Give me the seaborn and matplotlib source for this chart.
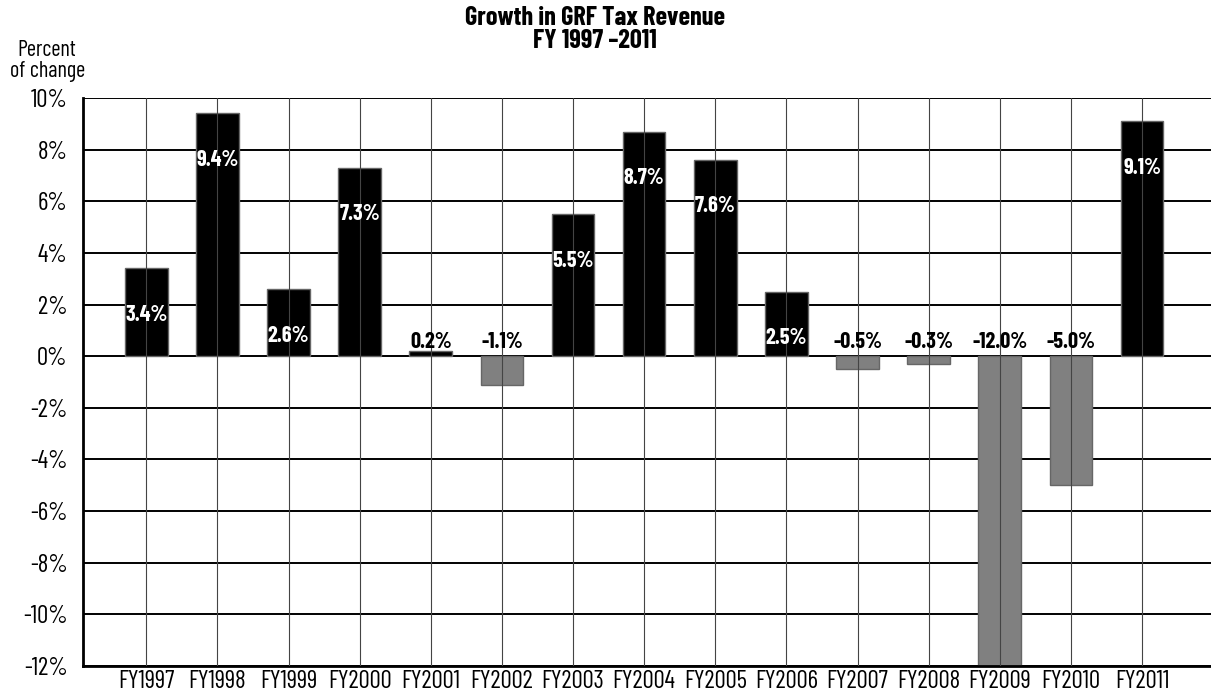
import pandas as pd
import matplotlib.pyplot as plt
import seaborn as sns

# dados
anos = ['FY1997', 'FY1998', 'FY1999', 'FY2000', 'FY2001', 'FY2002', 'FY2003', 'FY2004',
        'FY2005', 'FY2006', 'FY2007', 'FY2008', 'FY2009', 'FY2010', 'FY2011']
crescimento = [3.4, 9.4, 2.6, 7.3, 0.2, -1.1, 5.5, 8.7, 7.6, 2.5, -0.5, -0.3, -12.0, -5.0, 9.1]
ticks_y = [10, 8, 6, 4, 2, 0, -2, -4, -6, -8, -10, -12]

df = pd.DataFrame({'Ano': anos, 'Valor': crescimento})
cores = ['black' if v > 0 else '#808080' for v in crescimento]

sns.set_theme(style="white")
plt.rcParams['font.family'] = ['Barlow Condensed', 'DejaVu Sans']
plt.rcParams['text.color'] = 'black'
plt.rcParams['xtick.color'] = 'black'
plt.rcParams['ytick.color'] = 'black'

fig = plt.figure(figsize=(12.11, 6.94), dpi=100)
ax = fig.add_axes([0.0685, 0.0403, 0.9315, 0.8185])

sns.barplot(data=df, x='Ano', y='Valor', hue='Ano', palette=cores, legend=False,
            width=0.6, edgecolor='#666666', linewidth=1.0, ax=ax, zorder=2)

# grelha horizontal (por baixo) e vertical (por cima das barras)
for t in ticks_y:
    ax.axhline(t, color='black', lw=1.4, zorder=1)
for i in range(len(anos)):
    ax.axvline(i, color='#444444', lw=0.8, zorder=3)

# rótulos de valor
for i, v in enumerate(crescimento):
    txt = f'{v:.1f}%'
    if v >= 1:
        ax.text(i, v - 1.8, txt, ha='center', va='center', color='white',
                fontsize=16, fontweight='bold', zorder=4)
    else:
        ax.text(i, 0.55, txt, ha='center', va='center', color='black',
                fontsize=16, fontweight='bold', zorder=4)

ax.set_ylim(-12, 10)
ax.set_xlim(-0.89, 14.97)
ax.set_yticks(ticks_y)
ax.set_yticklabels([f'{t}%' for t in ticks_y])
ax.set_xlabel('')
ax.set_ylabel('')
ax.tick_params(axis='both', length=0, labelsize=18)
ax.tick_params(axis='y', pad=11)
ax.tick_params(axis='x', pad=3)

for s in ['top', 'right']:
    ax.spines[s].set_visible(False)
for s in ['left', 'bottom']:
    ax.spines[s].set_color('black')
    ax.spines[s].set_linewidth(2)

fig.text(0.491, 0.958, 'Growth in GRF Tax Revenue\nFY 1997 \u20132011', ha='center', va='center',
         fontsize=19, fontweight='bold', linespacing=0.95)
fig.text(0.039, 0.912, 'Percent\nof change', ha='center', va='center', fontsize=16,
         linespacing=0.95)

plt.savefig('out.png', dpi=100)
